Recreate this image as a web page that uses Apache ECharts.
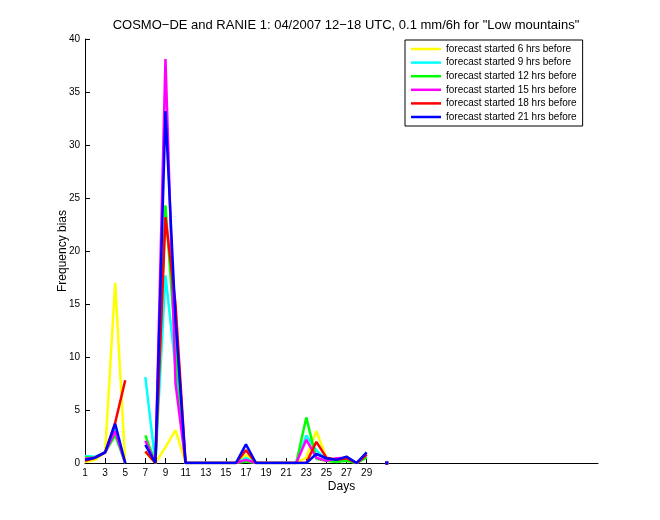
<!DOCTYPE html>
<html>
<head>
<meta charset="utf-8">
<script src="https://cdn.jsdelivr.net/npm/echarts@6/dist/echarts.min.js"></script>
<style>html,body{margin:0;padding:0;background:#fff;}#c{width:660px;height:520px;}</style>
</head>
<body>
<div id="c"></div>
<script>
var days = [1,2,3,4,5,6,7,8,9,10,11,12,13,14,15,16,17,18,19,20,21,22,23,24,25,26,27,28,29,30,31];
var xTicks = [1,3,5,7,9,11,13,15,17,19,21,23,25,27,29];
var seriesNames = ['forecast started 6 hrs before','forecast started 9 hrs before','forecast started 12 hrs before','forecast started 15 hrs before','forecast started 18 hrs before','forecast started 21 hrs before'];
var colors = ['#ffff00','#00ffff','#00ff00','#ff00ff','#ff0000','#0000ff'];
var s6  = [0.1,0.3,1.0,17.0,0,null,1.0,0,1.5,3.1,0,0,0,0,0,0,0.75,0.1,0,0,0,0,0.5,3.0,0.5,0.3,0.3,0,0.6,null,0];
var s9  = [0.65,0.6,1.0,3.2,0,null,8.1,0,17.7,9.0,0,0,0,0,0,0,0.45,0,0,0,0,0,2.6,1.2,0.3,0.2,0.3,0,0.6,null,0];
var s12 = [0.55,0.5,1.0,2.6,0,null,2.6,0,24.3,11.0,0,0,0,0,0,0,0.15,0,0,0,0,0,4.3,0.4,0.2,0.1,0.2,0,0.5,null,0];
var s15 = [0.4,0.5,1.0,3.0,0,null,2.1,0,38.1,7.5,0,0,0,0,0,0,0.3,0,0,0,0,0,2.2,0.5,0.2,0.45,0.5,0,0.8,null,0];
var s18 = [0.2,0.5,1.0,3.8,7.8,null,1.1,0,23.2,15.0,0,0,0,0,0,0,1.2,0,0,0,0,0,0,2.0,0.5,0.3,0.45,0,0.8,null,0];
var s21 = [0.3,0.5,1.0,3.7,0,null,1.7,0,33.2,13.5,0,0,0,0,0,0,1.75,0,0,0,0,0,0,0.85,0.45,0.3,0.6,0,1.0,null,0];
var allSeries = [s6,s9,s12,s15,s18,s21];

var FONT = 'Liberation Sans, Arial, Helvetica, sans-serif';
function buildData(vals){
  return days.map(function(d,i){
    var v = vals[i];
    var prev = i>0 ? vals[i-1] : null, next = i<vals.length-1 ? vals[i+1] : null;
    if (v !== null && prev === null && next === null && i>0) {
      return {value:[d,v], symbol:'rect', symbolSize:3};
    }
    return [d, v];
  });
}
var series = allSeries.map(function(vals,k){
  return {
    name: seriesNames[k], type:'line', data: buildData(vals),
    symbol:'none', showSymbol:true, connectNulls:false,
    lineStyle:{color:colors[k], width:2.5},
    itemStyle:{color:colors[k]},
    z: 2+k, animation:false
  };
});

var chart = echarts.init(document.getElementById('c'), null, {renderer:'canvas'});
chart.setOption({
  backgroundColor:'#ffffff',
  animation:false,
  title:{
    text:'COSMO\u2212DE and RANIE 1: 04/2007 12\u221218 UTC, 0.1 mm/6h for "Low mountains"',
    left:341, textAlign:'center', top:14,
    textStyle:{fontFamily:FONT, fontSize:13, fontWeight:'normal', color:'#000'}
  },
  legend:{
    left:405, top:40, orient:'vertical',
    backgroundColor:'#fff', borderColor:'#000', borderWidth:1,
    padding:[4,6,4,6], itemGap:3.6, itemWidth:30, itemHeight:12,
    icon:'path://M0,5 L30,5 L30,7.5 L0,7.5 Z',
    textStyle:{fontFamily:FONT, fontSize:10, color:'#000'},
    data: seriesNames
  },
  grid:{left:85, right:62, top:39, bottom:57, containLabel:false},
  xAxis:{
    type:'value', min:1, max:52,
    name:'Days', nameLocation:'middle', nameGap:18, nameMoveOverlap:false,
    nameTextStyle:{fontFamily:FONT, fontSize:12, color:'#000'},
    axisLine:{show:true, lineStyle:{color:'#000', width:1}},
    axisTick:{show:true, inside:true, length:5, lineStyle:{color:'#000'}, customValues:xTicks},
    axisLabel:{fontFamily:FONT, fontSize:10, color:'#000', margin:5, customValues:xTicks},
    splitLine:{show:false}
  },
  yAxis:{
    type:'value', min:0, max:40, interval:5,
    name:'Frequency bias', nameLocation:'middle', nameGap:16, nameMoveOverlap:false,
    nameTextStyle:{fontFamily:FONT, fontSize:12, color:'#000'},
    axisLine:{show:true, lineStyle:{color:'#000', width:1}},
    axisTick:{show:true, inside:true, length:5, lineStyle:{color:'#000'}},
    axisLabel:{fontFamily:FONT, fontSize:10, color:'#000', margin:5},
    splitLine:{show:false}
  },
  series: series
});
</script>
</body>
</html>
